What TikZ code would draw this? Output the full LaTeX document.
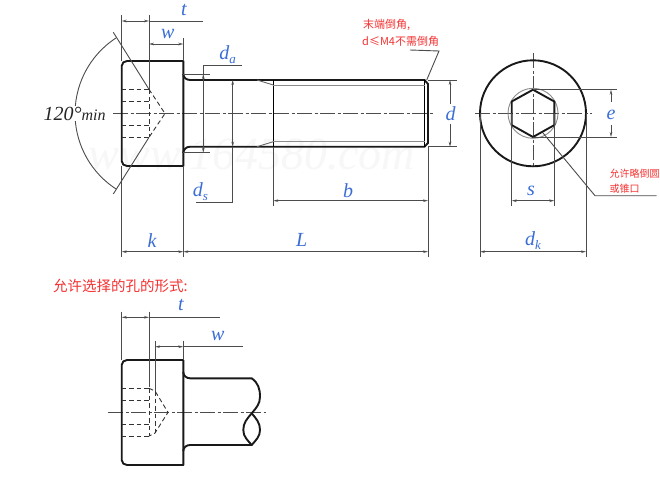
\documentclass[tikz,border=0pt]{standalone}
\usepackage{fontspec}
\setmainfont{Liberation Serif}
\newfontfamily\cjk{Noto Sans CJK SC}
\usetikzlibrary{arrows.meta}
\definecolor{dimblue}{RGB}{58,110,214}
\definecolor{notered}{RGB}{245,50,50}
\newcommand{\subbed}[2]{#1\raisebox{-4pt}{\fontsize{13}{14}\selectfont #2}}
\tikzset{
    outline/.style={black!90, line width=1.9pt, line join=round},
    thinline/.style={black!70, line width=0.9pt},
    hidden/.style={black!80, line width=0.9pt, dash pattern=on 4.5pt off 3pt},
    axisline/.style={black!70, line width=0.9pt, dash pattern=on 15pt off 2.5pt on 3pt off 2.5pt},
    dimline/.style={thinline, {Stealth[length=5pt,width=2.6pt]}-{Stealth[length=5pt,width=2.6pt]}},
    dimend/.style={thinline, -{Stealth[length=5pt,width=2.6pt]}},
    dimlabel/.style={text=dimblue, inner sep=0pt, font=\fontsize{20}{22}\selectfont\itshape},
    redtext/.style={text=notered, inner sep=0pt, anchor=west},
}
\begin{document}
\begin{tikzpicture}[x=1pt, y=-1pt]
    \useasboundingbox (0, 0) rectangle (660, 479);
    \fill[white] (0, 0) rectangle (660, 479);
    \node[text=black!3, inner sep=0pt, font=\fontsize{46}{48}\selectfont\itshape] (mark) at (252, 155) {www.164580.com};

    \draw[axisline] (113, 113.5) -- (433, 113.5);
    \draw[outline] (183.3, 61) -- (127, 61) to[out=180, in=90] (121.7, 66) -- (121.7, 161) to[out=-90, in=180] (127, 166) -- (183.3, 166) -- cycle;
    \draw[outline] (183.3, 74) to[out=-90, in=180] (190, 80) -- (424.5, 80) -- (428, 84) -- (428, 143) -- (424.5, 146.7) -- (190, 146.7) to[out=180, in=90] (183.3, 153);
    \draw[black, line width=1.3pt] (273.3, 80) -- (273.3, 146.7);
    \draw[black, line width=1.3pt] (424.5, 80) -- (424.5, 146.7);
    \draw[thinline, black!45] (273.3, 85) -- (424.5, 85);
    \draw[thinline, black!45] (273.3, 141.7) -- (424.5, 141.7);
    \draw[thinline, black!60] (257, 80) -- (273.3, 85);
    \draw[thinline, black!60] (257, 146.7) -- (273.3, 141.7);

    \draw[hidden] (121.7, 89.3) -- (149, 89.3);
    \draw[hidden] (121.7, 101.3) -- (149, 101.3);
    \draw[hidden] (121.7, 125.7) -- (149, 125.7);
    \draw[hidden] (121.7, 137.3) -- (149, 137.3);
    \draw[hidden] (149, 89.3) -- (165, 113.5) -- (149, 137.3);
    \draw[hidden] (149, 89.3) -- (149, 137.3);

    \draw[thinline] (113.3, 32.3) -- (149, 89.3);
    \draw[thinline] (113.3, 194) -- (149, 137.3);
    \draw[thinline] (116, 38) arc[start angle=123, end angle=237, radius=90pt];
    \node[fill=white, inner xsep=0pt, inner ysep=1pt, text=black!85, font=\fontsize{20}{22}\selectfont\itshape] (angle) at (74.5, 113.5) {120°\fontsize{16}{18}\selectfont min};

    \draw[thinline] (121.7, 15) -- (121.7, 61);
    \draw[thinline] (149, 15) -- (149, 89.3);
    \draw[thinline] (183.3, 38) -- (183.3, 61);
    \draw[dimline] (121.7, 21) -- (149, 21);
    \draw[thinline] (149, 21) -- (203, 21);
    \node[dimlabel] (tlabel) at (184, 10) {t};
    \draw[dimline] (149, 44) -- (183.3, 44);
    \node[dimlabel] (wlabel) at (167.7, 34) {w};

    \draw[thinline] (183.3, 74) -- (210, 74);
    \draw[thinline] (183.3, 152.7) -- (210, 152.7);
    \draw[dimline] (203.3, 74) -- (203.3, 152.7);
    \draw[thinline] (203.3, 74) -- (203.3, 65) -- (241.7, 65);
    \node[dimlabel] (dalabel) at (227.5, 55) {\subbed{d}{a}};
    \draw[dimline] (232.7, 80) -- (232.7, 146.7);
    \draw[thinline] (232.7, 146.7) -- (232.7, 202) -- (195.7, 202);
    \node[dimlabel] (dslabel) at (200.5, 192) {\subbed{d}{s}};

    \draw[thinline] (121.7, 166) -- (121.7, 257);
    \draw[thinline] (183.3, 166) -- (183.3, 257);
    \draw[thinline] (428, 146.7) -- (428, 257);
    \draw[thinline] (273.3, 146.7) -- (273.3, 206);
    \draw[dimline] (121.7, 251.7) -- (183.3, 251.7);
    \draw[dimline] (183.3, 251.7) -- (428, 251.7);
    \draw[dimline] (273.3, 200.7) -- (428, 200.7);
    \node[dimlabel] (klabel) at (152, 241) {k};
    \node[dimlabel] (Llabel) at (301.7, 240) {L};
    \node[dimlabel] (blabel) at (348, 191) {b};

    \draw[thinline] (428, 80) -- (456.7, 80);
    \draw[thinline] (428, 146.7) -- (456.7, 146.7);
    \draw[dimend] (450, 104) -- (450, 80);
    \draw[dimend] (450, 124) -- (450, 146.7);
    \node[dimlabel] (dlabel) at (450.7, 114) {d};

    \draw[thinline] (426.7, 80) -- (439, 51) -- (410, 50);
    \node[redtext, font=\cjk\fontsize{11}{12}\selectfont] (note1) at (363, 25) {末端倒角,};
    \node[redtext, font=\cjk\fontsize{11}{12}\selectfont] (note2) at (362, 41) {d≤M4不需倒角};

    \draw[axisline] (475, 113.3) -- (592, 113.3);
    \draw[axisline] (533, 53) -- (533, 167);
    \draw[outline] (533, 113.3) circle[radius=53pt];
    \draw[thinline, black!45] (533, 113.3) circle[radius=25pt];
    \draw[outline] (533, 89.7) -- (554.3, 101.5) -- (554.3, 125.1) -- (533, 137) -- (511.7, 125.1) -- (511.7, 101.5) -- cycle;

    \draw[thinline] (533, 89.7) -- (616.7, 89.7);
    \draw[thinline] (533, 137) -- (616.7, 137);
    \draw[dimend] (611, 101.7) -- (611, 89.7);
    \draw[dimend] (611, 125) -- (611, 137);
    \node[dimlabel] (elabel) at (611, 115) {e};

    \draw[thinline] (511.7, 113.3) -- (511.7, 206);
    \draw[thinline] (554.3, 113.3) -- (554.3, 206);
    \draw[dimline] (511.7, 200.7) -- (554.3, 200.7);
    \node[dimlabel] (slabel) at (531, 191) {s};

    \draw[thinline] (480, 113.3) -- (480, 256.7);
    \draw[thinline] (586, 113.3) -- (586, 256.7);
    \draw[dimline] (480, 251.7) -- (586, 251.7);
    \node[dimlabel] (dklabel) at (533, 241) {\subbed{d}{k}};

    \draw[thinline] (543, 133) -- (595, 195.7) -- (656.7, 195.7);
    \node[redtext, font=\cjk\fontsize{10}{12}\selectfont] (note3) at (609.5, 174) {允许略倒圆};
    \node[redtext, font=\cjk\fontsize{10}{12}\selectfont] (note4) at (609.5, 189) {或锥口};

    \node[redtext, font=\cjk\fontsize{14.5}{16}\selectfont] (note5) at (53, 286) {允许选择的孔的形式:};

    \draw[axisline] (108, 412.3) -- (266, 412.3);
    \draw[outline] (183.3, 360) -- (127, 360) to[out=180, in=90] (121.7, 365) -- (121.7, 460) to[out=-90, in=180] (127, 465) -- (183.3, 465) -- cycle;
    \draw[outline] (183.3, 372) to[out=-90, in=180] (190, 378.3) -- (251.7, 378.3) to[out=-35, in=90] (260, 396.7) to[out=-90, in=50] (251.7, 413.3) to[out=-130, in=90] (243.3, 430) to[out=-90, in=130] (251.7, 445) -- (190, 445) to[out=180, in=90] (183.3, 451);
    \draw[outline] (251.7, 413.3) to[out=-50, in=90] (260, 430) to[out=-90, in=50] (251.7, 445);

    \draw[hidden] (121.7, 388.3) -- (149, 388.3);
    \draw[hidden] (121.7, 400) -- (149, 400);
    \draw[hidden] (121.7, 424.3) -- (149, 424.3);
    \draw[hidden] (121.7, 436) -- (149, 436);
    \draw[hidden] (149, 388.3) -- (155, 391) -- (168, 412.3) -- (155, 433) -- (149, 436);
    \draw[hidden] (149, 388.3) -- (149, 436);
    \draw[hidden] (155, 391) -- (155, 433);

    \draw[thinline] (121.7, 311.7) -- (121.7, 360);
    \draw[thinline] (149, 311.7) -- (149, 386.7);
    \draw[thinline] (155, 340.7) -- (155, 391);
    \draw[thinline] (183.3, 340.7) -- (183.3, 360);
    \draw[dimline] (121.7, 317.3) -- (149, 317.3);
    \draw[thinline] (149, 317.3) -- (220, 317.3);
    \node[dimlabel] (tlabelb) at (181, 305) {t};
    \draw[dimline] (155, 346.7) -- (183.3, 346.7);
    \draw[thinline] (183.3, 346.7) -- (243.3, 346.7);
    \node[dimlabel] (wlabelb) at (217.7, 336) {w};
\end{tikzpicture}
\end{document}
